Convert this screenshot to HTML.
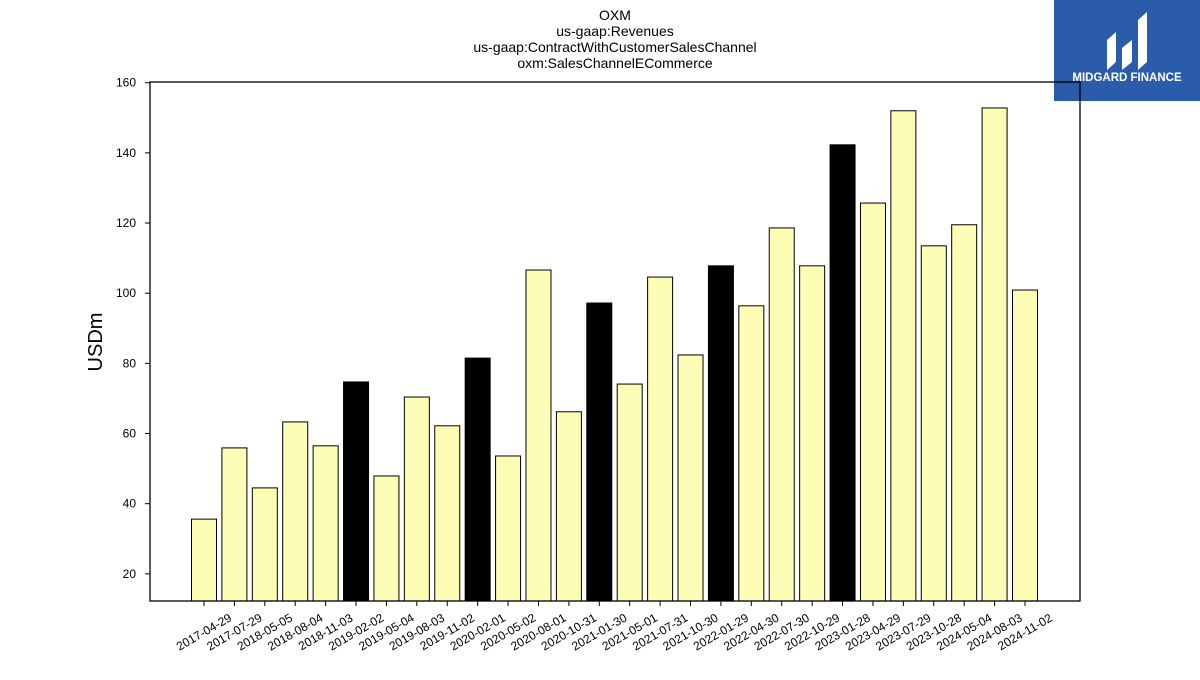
<!DOCTYPE html>
<html><head><meta charset="utf-8"><style>
body{margin:0;background:#fff;}
svg text{font-family:"Liberation Sans","DejaVu Sans",sans-serif;}
</style></head><body>
<svg width="1200" height="675" xmlns="http://www.w3.org/2000/svg">
<g font-size="14" text-anchor="middle" fill="#000">
<text x="615" y="20">OXM</text>
<text x="615" y="36">us-gaap:Revenues</text>
<text x="615" y="52">us-gaap:ContractWithCustomerSalesChannel</text>
<text x="615" y="68">oxm:SalesChannelECommerce</text>
</g>
<g>
<rect x="1054" y="0" width="146" height="101" fill="#2b5cab"/>
<path d="M1107 70 L1107 40 L1116 32 L1116 62 Z M1122 70 L1122 48 L1132 40 L1132 62 Z M1138 70 L1138 20 L1147 12 L1147 62 Z" fill="#fff"/>
<text x="1127" y="81" fill="#fff" font-size="11.5" font-weight="bold" text-anchor="middle">MIDGARD FINANCE</text>
</g>
<text x="102" y="342" font-size="20" text-anchor="middle" transform="rotate(-90 102 342)">USDm</text>
<g id="plot"></g>
<rect x="150" y="82" width="930" height="519" fill="none" stroke="#000" stroke-width="1.3"/>
</svg>
<script>
const categories=["2017-04-29","2017-07-29","2018-05-05","2018-08-04","2018-11-03","2019-02-02","2019-05-04","2019-08-03","2019-11-02","2020-02-01","2020-05-02","2020-08-01","2020-10-31","2021-01-30","2021-05-01","2021-07-31","2021-10-30","2022-01-29","2022-04-30","2022-07-30","2022-10-29","2023-01-28","2023-04-29","2023-07-29","2023-10-28","2024-05-04","2024-08-03","2024-11-02"];
const values=[35.6,55.9,44.5,63.3,56.5,74.7,47.9,70.4,62.2,81.5,53.6,106.6,66.2,97.2,74.1,104.6,82.4,107.8,96.4,118.6,107.8,142.3,125.7,152.0,113.5,119.5,152.8,100.9];
const fiscalYearEnd=[false,false,false,false,false,true,false,false,false,true,false,false,false,true,false,false,false,true,false,false,false,true,false,false,false,false,false,false];
const yTicks=[20,40,60,80,100,120,140,160];
const NS="http://www.w3.org/2000/svg";
const yMin=12.26,yMax=160.2,plotTop=82,plotBottom=601;
const yScale=v=>plotBottom-(v-yMin)/(yMax-yMin)*(plotBottom-plotTop);
const x0=204,x1=1025;
const xScale=i=>x0+i*(x1-x0)/(categories.length-1);
const g=document.getElementById('plot');
function mk(t,a){const e=document.createElementNS(NS,t);for(const k in a)e.setAttribute(k,a[k]);g.appendChild(e);return e;}
yTicks.forEach(v=>{
 const l=mk('line',{x1:145,x2:150,y1:yScale(v),y2:yScale(v),stroke:'#000'});
 
 
 const t=mk('text',{x:136,y:yScale(v)+4,'font-size':12,'text-anchor':'end'});
 t.textContent=v;
 
 
});
categories.forEach((c,i)=>{
 const cx=xScale(i),w=25;
 const r=mk('rect',{x:cx-w/2,y:yScale(values[i]),width:w,height:plotBottom-yScale(values[i]),fill:fiscalYearEnd[i]?'#000':'#fdfdb5',stroke:'#000','stroke-width':1});
 
 
 const tk=mk('line',{x1:cx,x2:cx,y1:plotBottom,y2:plotBottom+5,stroke:'#000'});
 
 
 const t=mk('text',{x:cx,y:636,'font-size':12,'text-anchor':'middle',transform:`rotate(-30 ${cx} 632)`});
 t.textContent=c;
 
 
});
</script>
</body></html>
